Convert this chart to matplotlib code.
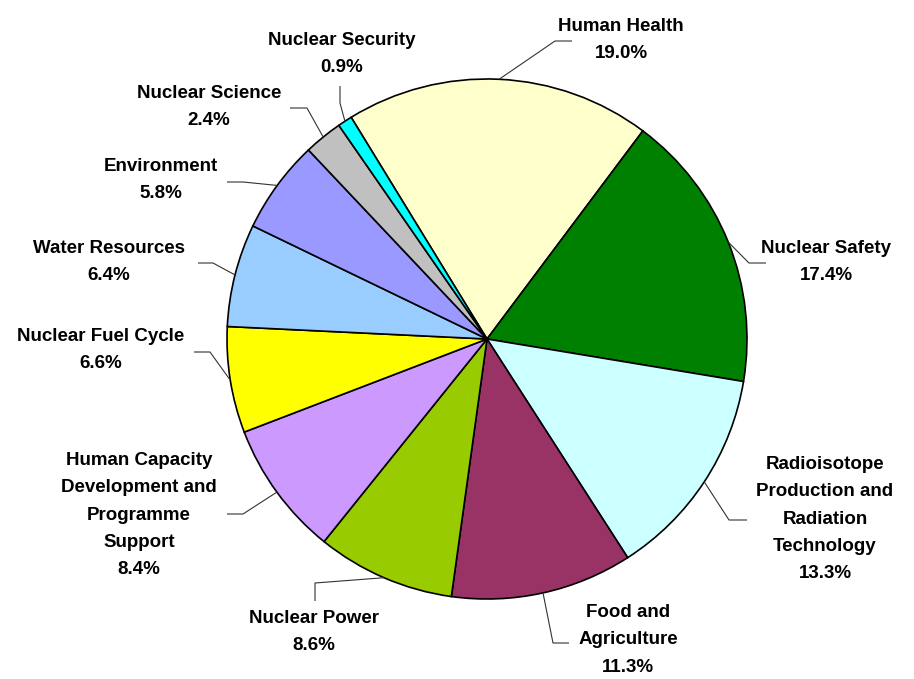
import numpy as np
import matplotlib
matplotlib.use("Agg")
import matplotlib.pyplot as plt

categories = ["Human Health", "Nuclear Safety",
              "Radioisotope\nProduction and\nRadiation\nTechnology",
              "Food and\nAgriculture", "Nuclear Power",
              "Human Capacity\nDevelopment and\nProgramme\nSupport",
              "Nuclear Fuel Cycle", "Water Resources", "Environment",
              "Nuclear Science", "Nuclear Security"]
values = [19.0, 17.4, 13.3, 11.3, 8.6, 8.4, 6.6, 6.4, 5.8, 2.4, 0.9]
colors = ["#FFFFCC", "#008000", "#CCFFFF", "#993366", "#99CC00", "#CC99FF",
          "#FFFF00", "#99CCFF", "#9999FF", "#C0C0C0", "#00FFFF"]

W, H = 914, 679
fig = plt.figure(figsize=(W / 100, H / 100), dpi=100)
ax = fig.add_axes([0, 0, 1, 1])

cx, cy, R = 487, H - 339, 260
wedges, _ = ax.pie(values, colors=colors, startangle=121.5, counterclock=False,
                   center=(cx, cy), radius=R, frame=True,
                   wedgeprops=dict(edgecolor="black", linewidth=1.2))
ax.set_xlim(0, W)
ax.set_ylim(0, H)
ax.axis("off")

# label layout (pixel coords, y from top): text center, elbow, end
label_pos = [(621, 40), (826, 262), (825, 519), (628, 640), (314, 632),
             (139, 515), (101, 350), (109, 262), (161, 180), (209, 107), (342, 54)]
elbows = [(555, 41), (749, 263), (729, 520), (553, 643), (315, 583),
          (243, 514), (210, 352), (213, 263), (243, 182), (307, 108), (340, 103)]
ends = [(572, 41), (766, 263), (747, 520), (569, 643), (315, 601),
        (227, 514), (194, 352), (198, 263), (227, 182), (290, 108), (340, 86)]

for w, lab, v, (lx, ly), (ex, ey), (tx, ty) in zip(wedges, categories, values,
                                                    label_pos, elbows, ends):
    mid = np.deg2rad((w.theta1 + w.theta2) / 2)
    sx, sy = cx + R * np.cos(mid), cy + R * np.sin(mid)
    ax.plot([sx, ex, tx], [sy, H - ey, H - ty], color="#333333", lw=0.8,
            solid_capstyle="butt", zorder=1)
    ax.text(lx, H - ly, f"{lab}\n{v:.1f}%", ha="center", va="center",
            fontsize=13.5, fontweight="bold", family="Liberation Sans",
            linespacing=1.8, color="black")

fig.savefig("out.png", dpi=100)
